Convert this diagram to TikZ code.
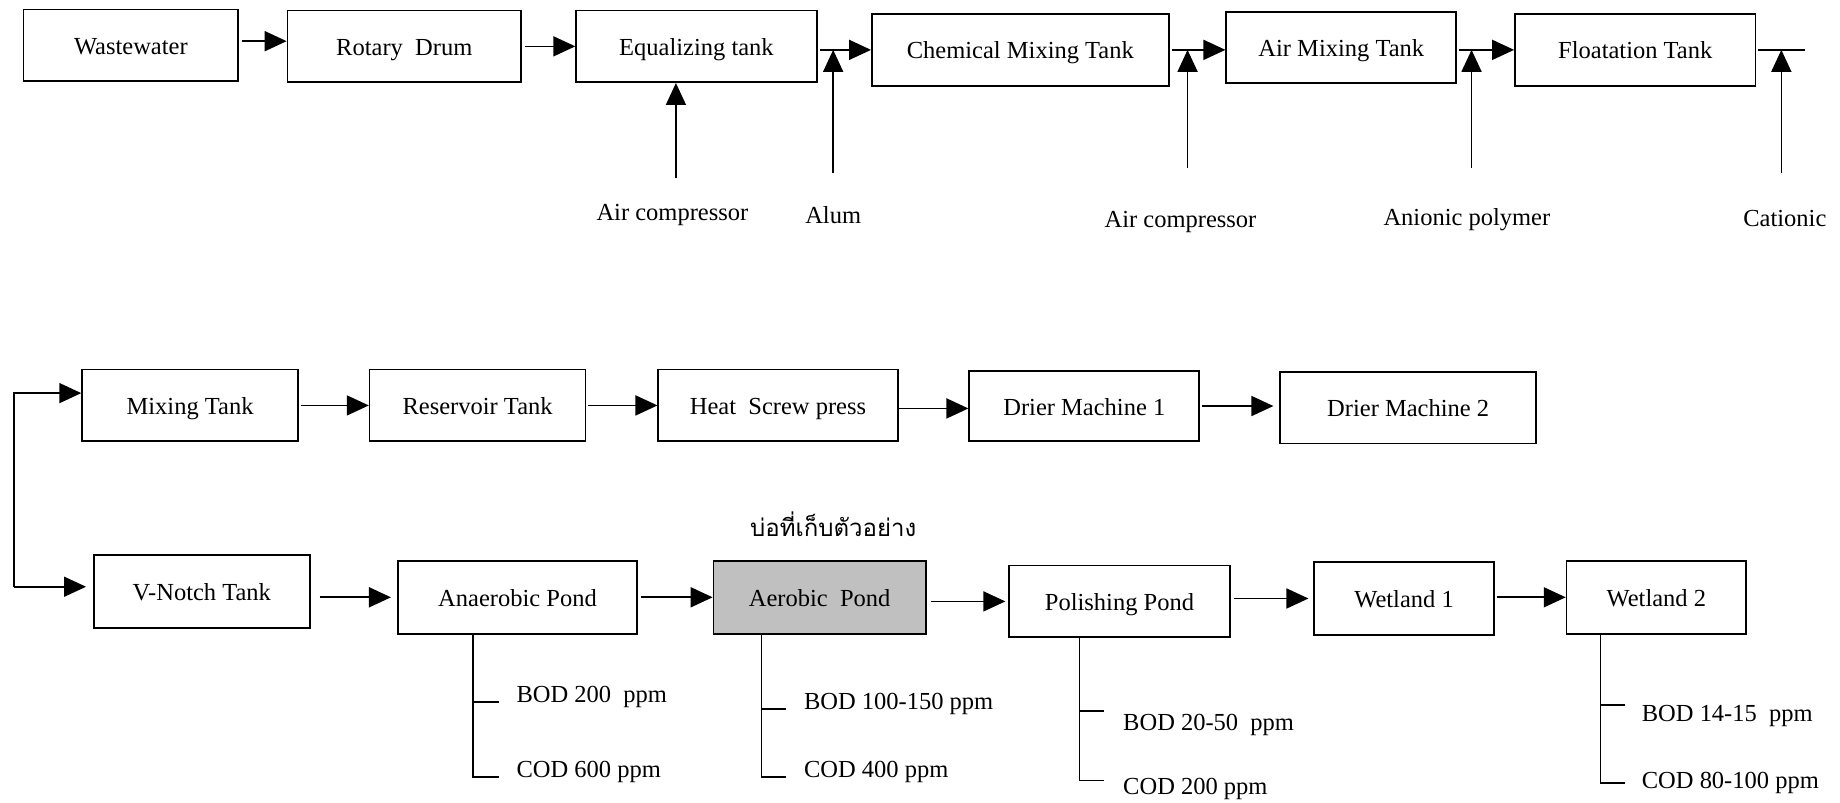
\documentclass[tikz,border=0pt]{standalone}
\usepackage{fontspec}
\setmainfont{Liberation Serif}
\newfontfamily\thaifont[Script=Thai]{Loma}
\usetikzlibrary{arrows.meta,calc}
\newcommand{\bx}[7][]{\node[box,#1,minimum width={(#5-#3)*1.1735pt},minimum height={(#6-#4)*1.1735pt}] (#2) at ({(#3+#5)/2},{(#4+#6)/2}) {#7};}
\begin{document}
\begin{tikzpicture}[x=1.1735pt,y=-1.1735pt,
  box/.style={draw,line width=1.7pt,inner sep=0pt,text height=18pt,text depth=0pt,font=\fontsize{24.5}{29}\selectfont},
  lbl/.style={inner sep=0pt,font=\fontsize{24.5}{29}\selectfont},
  arr/.style={line width=1.7pt,-{Triangle[length=22pt,width=20pt]}},
  ln/.style={line width=1.7pt}]
\useasboundingbox (0,0) rectangle (1568,684);
% row 1
\bx{ww}{20}{8}{203}{69}{Wastewater}
\bx{rd}{245}{9}{444}{70}{Rotary~ Drum}
\bx{eq}{491}{9}{696}{70}{Equalizing tank}
\bx{cm}{743}{12}{996}{73}{Chemical Mixing Tank}
\bx{am}{1045}{10}{1241}{71}{Air Mixing Tank}
\bx{ft}{1291}{12}{1496}{73}{Floatation Tank}
% row 2
\bx{mt}{70}{315}{254}{376}{Mixing Tank}
\bx{rt}{315}{315}{499}{376}{Reservoir Tank}
\bx{hs}{561}{315}{765}{376}{Heat~ Screw press}
\bx{d1}{826}{316}{1022}{376}{Drier Machine 1}
\bx{d2}{1091}{317}{1309}{378}{Drier Machine 2}
% row 3
\bx{vn}{80}{473}{264}{535}{V-Notch Tank}
\bx{an}{339}{478}{543}{540}{Anaerobic Pond}
\bx[fill={rgb,255:red,192;green,192;blue,192}]{ae}{608}{478}{789}{540}{Aerobic~ Pond}
\bx{pp}{860}{482}{1048}{543}{Polishing Pond}
\bx{wa}{1120}{479}{1273}{541}{Wetland 1}
\bx{wb}{1335}{478}{1488}{540}{Wetland 2}
% top-row labels
\node[lbl] (ac1) at (573,183) {Air compressor};
\node[lbl] (alum) at (710,183) {Alum};
\node[lbl] (ac2) at (1006,189) {Air compressor};
\node[lbl] (anp) at (1250,187) {Anionic polymer};
\node[lbl] (cat) at (1521,186) {Cationic};
\coordinate (ac1t) at (576,152);
\coordinate (alumt) at (710,147);
\coordinate (ac2t) at (1012,143);
\coordinate (anpt) at (1254,143);
\coordinate (catt) at (1518,147);
\coordinate (fend) at (1538,45);
% thai
\node[inner sep=0pt,font=\thaifont\fontsize{24}{29}\selectfont] (thai) at (710,447) {บ่อที่เก็บตัวอย่าง};
% row1 connectors
\draw[arr] ([xshift=3pt,yshift=4pt]ww.east) -- ([yshift=4pt]ww.east -| rd.west);
\draw[arr] ([xshift=3pt]rd.east) -- (rd.east -| eq.west);
\draw[arr] ([xshift=2pt]eq.east |- cm.west) -- (cm.west);
\draw[arr] (ac1t) -- (ac1t |- eq.south);
\draw[arr] (alumt) -- (alumt |- cm.west);
\draw[arr] ([xshift=2pt]cm.east) -- (cm.east -| am.west);
\draw[arr] (ac2t) -- (ac2t |- cm.east);
\draw[arr] ([xshift=2pt]am.east |- ft.west) -- (ft.west);
\draw[arr] (anpt) -- (anpt |- ft.west);
\draw[ln] ([xshift=2pt]ft.east) -- (ft.east -| fend);
\draw[arr] (catt) -- (catt |- ft.east);
% row2 connectors
\draw[arr] ([xshift=2pt]mt.east) -- (mt.east -| rt.west);
\draw[arr] ([xshift=2pt]rt.east) -- (rt.east -| hs.west);
\draw[arr] ([yshift=-3pt]hs.east) -- ([yshift=-3pt]hs.east -| d1.west);
\draw[arr] ([xshift=2pt]d1.east) -- ([xshift=-6pt]d1.east -| d2.west);
% loop
\coordinate (ltop) at (12,335);
\coordinate (lbot) at (12,500);
\draw[arr] (lbot) -- (ltop) -- (ltop -| mt.west);
\draw[arr] (lbot) -- ([xshift=-7pt]lbot -| vn.west);
% row3 connectors
\draw[arr] ([xshift=9pt]vn.east |- an.west) -- ([xshift=-6pt]an.west);
\draw[arr] ([xshift=3pt]an.east) -- (an.east -| ae.west);
\draw[arr] ([xshift=4pt]ae.east |- pp.west) -- ([xshift=-3pt]pp.west);
\draw[arr] ([xshift=3pt]pp.east |- wa.west) -- ([xshift=-5pt]wa.west);
\draw[arr] ([xshift=2pt]wa.east |- wb.west) -- (wb.west);
% measurement labels
\node[lbl,anchor=west] (b1) at (440,594) {BOD 200~ ppm};
\node[lbl,anchor=west] (c1) at (440,658) {COD 600 ppm};
\node[lbl,anchor=west] (b2) at (685,600) {BOD 100-150 ppm};
\node[lbl,anchor=west] (c2) at (685,658) {COD 400 ppm};
\node[lbl,anchor=west] (b3) at (957,618) {BOD 20-50~ ppm};
\node[lbl,anchor=west] (c3) at (957,672) {COD 200 ppm};
\node[lbl,anchor=west] (b4) at (1399,610) {BOD 14-15~ ppm};
\node[lbl,anchor=west] (c4) at (1399,667) {COD 80-100 ppm};
% brackets
\draw[ln] (an.south -| 403,0) -- (403,662) -- (425,662);
\draw[ln] (403,598) -- (425,598);
\draw[ln] (ae.south -| 649,0) -- (649,662) -- (670,662);
\draw[ln] (649,604) -- (670,604);
\draw[ln] (pp.south -| 920,0) -- (920,665) -- (941,665);
\draw[ln] (920,606) -- (941,606);
\draw[ln] (wb.south -| 1364,0) -- (1364,667) -- (1385,667);
\draw[ln] (1364,601) -- (1385,601);
\end{tikzpicture}
\end{document}
